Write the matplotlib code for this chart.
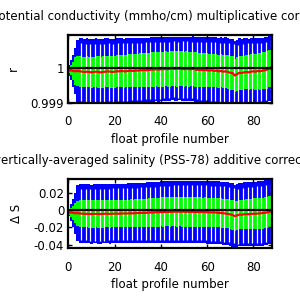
import matplotlib
matplotlib.use("Agg")
import matplotlib.pyplot as plt
import numpy as np

# profile numbers
profiles = np.arange(0, 89)

# multiplicative conductivity correction r (red line)
r_fit = [0.99992, 0.99993, 0.99991, 0.99990, 0.99991,
         0.99990, 0.99989, 0.99988, 0.99989, 0.99988, 0.99987,
         0.99988, 0.99989, 0.99988, 0.99987, 0.99988, 0.99989, 0.99990, 0.99989, 0.99988, 0.99989,
         0.99990, 0.99990, 0.99991, 0.99990, 0.99990, 0.99991, 0.99992, 0.99991, 0.99992, 0.99992,
         0.99993, 0.99993, 0.99994, 0.99993, 0.99994, 0.99995, 0.99995, 0.99996, 0.99995, 0.99996,
         0.99996, 0.99997, 0.99996, 0.99997, 0.99998, 0.99997, 0.99997, 0.99998, 0.99997, 0.99996,
         0.99997, 0.99996, 0.99996, 0.99997, 0.99995, 0.99994, 0.99994, 0.99993, 0.99994, 0.99993,
         0.99992, 0.99993, 0.99991, 0.99992, 0.99990, 0.99991, 0.99989, 0.99990, 0.99988, 0.99986,
         0.99985, 0.99978, 0.99982, 0.99986, 0.99985, 0.99987, 0.99988, 0.99987, 0.99989, 0.99990,
         0.99989, 0.99991, 0.99990, 0.99992, 0.99993, 0.99995, 0.99998, 1.00002]
# 1x error (green) and 2x error (blue) on r
r_err1 = [0.00008, 0.00014, 0.00026, 0.00040, 0.00044,
          0.00044, 0.00043, 0.00044, 0.00044, 0.00043, 0.00044,
          0.00044, 0.00044, 0.00045, 0.00044, 0.00045, 0.00045, 0.00045, 0.00046, 0.00045, 0.00046,
          0.00046, 0.00046, 0.00046, 0.00047, 0.00046, 0.00047, 0.00047, 0.00047, 0.00047, 0.00047,
          0.00048, 0.00048, 0.00048, 0.00048, 0.00049, 0.00049, 0.00049, 0.00049, 0.00050, 0.00050,
          0.00050, 0.00050, 0.00050, 0.00051, 0.00051, 0.00050, 0.00051, 0.00050, 0.00050, 0.00050,
          0.00050, 0.00050, 0.00049, 0.00049, 0.00049, 0.00049, 0.00048, 0.00048, 0.00048, 0.00048,
          0.00048, 0.00047, 0.00047, 0.00047, 0.00047, 0.00047, 0.00047, 0.00047, 0.00048, 0.00048,
          0.00048, 0.00048, 0.00048, 0.00048, 0.00048, 0.00048, 0.00049, 0.00050, 0.00050, 0.00051,
          0.00051, 0.00052, 0.00052, 0.00053, 0.00053, 0.00054, 0.00054, 0.00054]
r_err2 = [0.00015, 0.00029, 0.00045, 0.00066, 0.00088,
          0.00094, 0.00095, 0.00095, 0.00095, 0.00095, 0.00095,
          0.00095, 0.00095, 0.00095, 0.00096, 0.00095, 0.00095, 0.00095, 0.00094, 0.00095, 0.00094,
          0.00094, 0.00094, 0.00094, 0.00093, 0.00094, 0.00093, 0.00093, 0.00093, 0.00093, 0.00093,
          0.00093, 0.00093, 0.00092, 0.00093, 0.00092, 0.00092, 0.00092, 0.00092, 0.00092, 0.00092,
          0.00092, 0.00091, 0.00092, 0.00091, 0.00091, 0.00091, 0.00091, 0.00091, 0.00092, 0.00092,
          0.00092, 0.00092, 0.00092, 0.00093, 0.00093, 0.00093, 0.00094, 0.00094, 0.00094, 0.00095,
          0.00095, 0.00095, 0.00096, 0.00096, 0.00096, 0.00096, 0.00097, 0.00097, 0.00097, 0.00097,
          0.00097, 0.00098, 0.00098, 0.00098, 0.00097, 0.00097, 0.00096, 0.00096, 0.00095, 0.00095,
          0.00095, 0.00095, 0.00094, 0.00094, 0.00094, 0.00094, 0.00094, 0.00094]

# additive salinity correction dS (red line)
ds_fit = [-0.0030, -0.0025, -0.0030, -0.0035, -0.0033,
          -0.0038, -0.0040, -0.0042, -0.0041, -0.0043, -0.0044,
          -0.0043, -0.0041, -0.0043, -0.0044, -0.0042, -0.0040, -0.0041, -0.0042, -0.0040, -0.0040,
          -0.0039, -0.0040, -0.0038, -0.0037, -0.0038, -0.0036, -0.0035, -0.0036, -0.0034, -0.0033,
          -0.0032, -0.0030, -0.0031, -0.0029, -0.0027, -0.0026, -0.0025, -0.0023, -0.0022, -0.0020,
          -0.0021, -0.0019, -0.0018, -0.0019, -0.0017, -0.0016, -0.0017, -0.0016, -0.0017, -0.0017,
          -0.0018, -0.0017, -0.0019, -0.0018, -0.0020, -0.0021, -0.0020, -0.0022, -0.0021, -0.0023,
          -0.0024, -0.0026, -0.0025, -0.0028, -0.0030, -0.0032, -0.0035, -0.0038, -0.0042, -0.0048,
          -0.0055, -0.0068, -0.0060, -0.0050, -0.0052, -0.0047, -0.0045, -0.0046, -0.0043, -0.0040,
          -0.0041, -0.0038, -0.0036, -0.0033, -0.0030, -0.0025, -0.0018, -0.0010]
ds_err1 = [0.0020, 0.0050, 0.0078, 0.0116, 0.0145,
           0.0155, 0.0157, 0.0158, 0.0157, 0.0158, 0.0158,
           0.0158, 0.0158, 0.0159, 0.0158, 0.0159, 0.0159, 0.0159, 0.0160, 0.0159, 0.0160,
           0.0160, 0.0160, 0.0160, 0.0161, 0.0160, 0.0161, 0.0161, 0.0161, 0.0162, 0.0162,
           0.0163, 0.0163, 0.0164, 0.0164, 0.0165, 0.0166, 0.0166, 0.0167, 0.0168, 0.0169,
           0.0170, 0.0170, 0.0171, 0.0172, 0.0172, 0.0173, 0.0173, 0.0173, 0.0174, 0.0174,
           0.0174, 0.0173, 0.0173, 0.0172, 0.0172, 0.0171, 0.0171, 0.0170, 0.0170, 0.0170,
           0.0169, 0.0169, 0.0169, 0.0169, 0.0169, 0.0169, 0.0169, 0.0170, 0.0170, 0.0170,
           0.0170, 0.0170, 0.0170, 0.0170, 0.0170, 0.0171, 0.0172, 0.0174, 0.0175, 0.0177,
           0.0178, 0.0179, 0.0180, 0.0181, 0.0182, 0.0183, 0.0184, 0.0185]
ds_err2 = [0.0040, 0.0097, 0.0165, 0.0240, 0.0330,
           0.0342, 0.0343, 0.0344, 0.0344, 0.0344, 0.0344,
           0.0344, 0.0344, 0.0345, 0.0345, 0.0345, 0.0345, 0.0346, 0.0346, 0.0346, 0.0347,
           0.0347, 0.0347, 0.0348, 0.0348, 0.0349, 0.0349, 0.0350, 0.0350, 0.0351, 0.0351,
           0.0352, 0.0352, 0.0353, 0.0353, 0.0354, 0.0355, 0.0355, 0.0356, 0.0357, 0.0357,
           0.0358, 0.0358, 0.0359, 0.0359, 0.0360, 0.0360, 0.0360, 0.0360, 0.0360, 0.0360,
           0.0361, 0.0361, 0.0362, 0.0362, 0.0363, 0.0363, 0.0364, 0.0364, 0.0365, 0.0365,
           0.0365, 0.0366, 0.0366, 0.0366, 0.0367, 0.0367, 0.0367, 0.0368, 0.0368, 0.0368,
           0.0368, 0.0368, 0.0368, 0.0369, 0.0370, 0.0371, 0.0372, 0.0373, 0.0374, 0.0375,
           0.0376, 0.0377, 0.0378, 0.0378, 0.0379, 0.0380, 0.0380, 0.0380]

plt.rcParams['font.family'] = 'DejaVu Sans'
plt.rcParams['font.size'] = 8.5

fig = plt.figure(figsize=(3, 3), dpi=100)
ax1 = fig.add_axes([0.228, 0.657, 0.678, 0.227])
ax2 = fig.add_axes([0.228, 0.173, 0.678, 0.230])


def panel(ax, fit, e1, e2, ref, title, ylabel, ylim, yticks, yticklabels):
    fit = np.array(fit)
    e1 = np.array(e1)
    e2 = np.array(e2)
    ax.fill_between(profiles, fit - e2, fit + e2, step='mid', color='#0000ff', lw=0)
    ax.fill_between(profiles, fit - e1, fit + e1, step='mid', color='#00ff00', lw=0)
    # white gaps between the stacked error bars
    sel = profiles[5:-1:2]
    ax.vlines(sel + 0.5, (fit - 0.9 * e2)[5:-1:2], (fit + 0.85 * e2)[5:-1:2],
              color='white', lw=0.9)
    ax.plot(profiles, fit, color='#ff0000', lw=1.6)
    ax.axhline(ref, color='black', lw=1.6)
    ax.set_xlim(0, 88)
    ax.set_ylim(*ylim)
    ax.set_xticks([0, 20, 40, 60, 80])
    ax.set_yticks(yticks)
    ax.set_yticklabels(yticklabels)
    ax.tick_params(direction='in', length=3, width=1, top=True, right=True)
    ax.tick_params(axis='x', pad=9)
    ax.tick_params(axis='y', pad=3)
    for s in ax.spines.values():
        s.set_linewidth(1.6)
    ax.set_title(title, fontsize=8.5, pad=11)
    ax.set_xlabel('float profile number', fontsize=8.5, labelpad=3)
    ax.set_ylabel(ylabel, fontsize=8.5, labelpad=8)


panel(ax1, r_fit, r_err1, r_err2, 1.0,
      'potential conductivity (mmho/cm) multiplicative correction r', 'r',
      (0.999, 1.00094), [0.999, 1.0], ['0.999', '1'])
panel(ax2, ds_fit, ds_err1, ds_err2, 0.0,
      'vertically-averaged salinity (PSS-78) additive correction \u0394 S', '\u0394 S',
      (-0.0441, 0.0363), [-0.04, -0.02, 0, 0.02], ['-0.04', '-0.02', '0', '0.02'])

fig.savefig('out.png', dpi=100)
